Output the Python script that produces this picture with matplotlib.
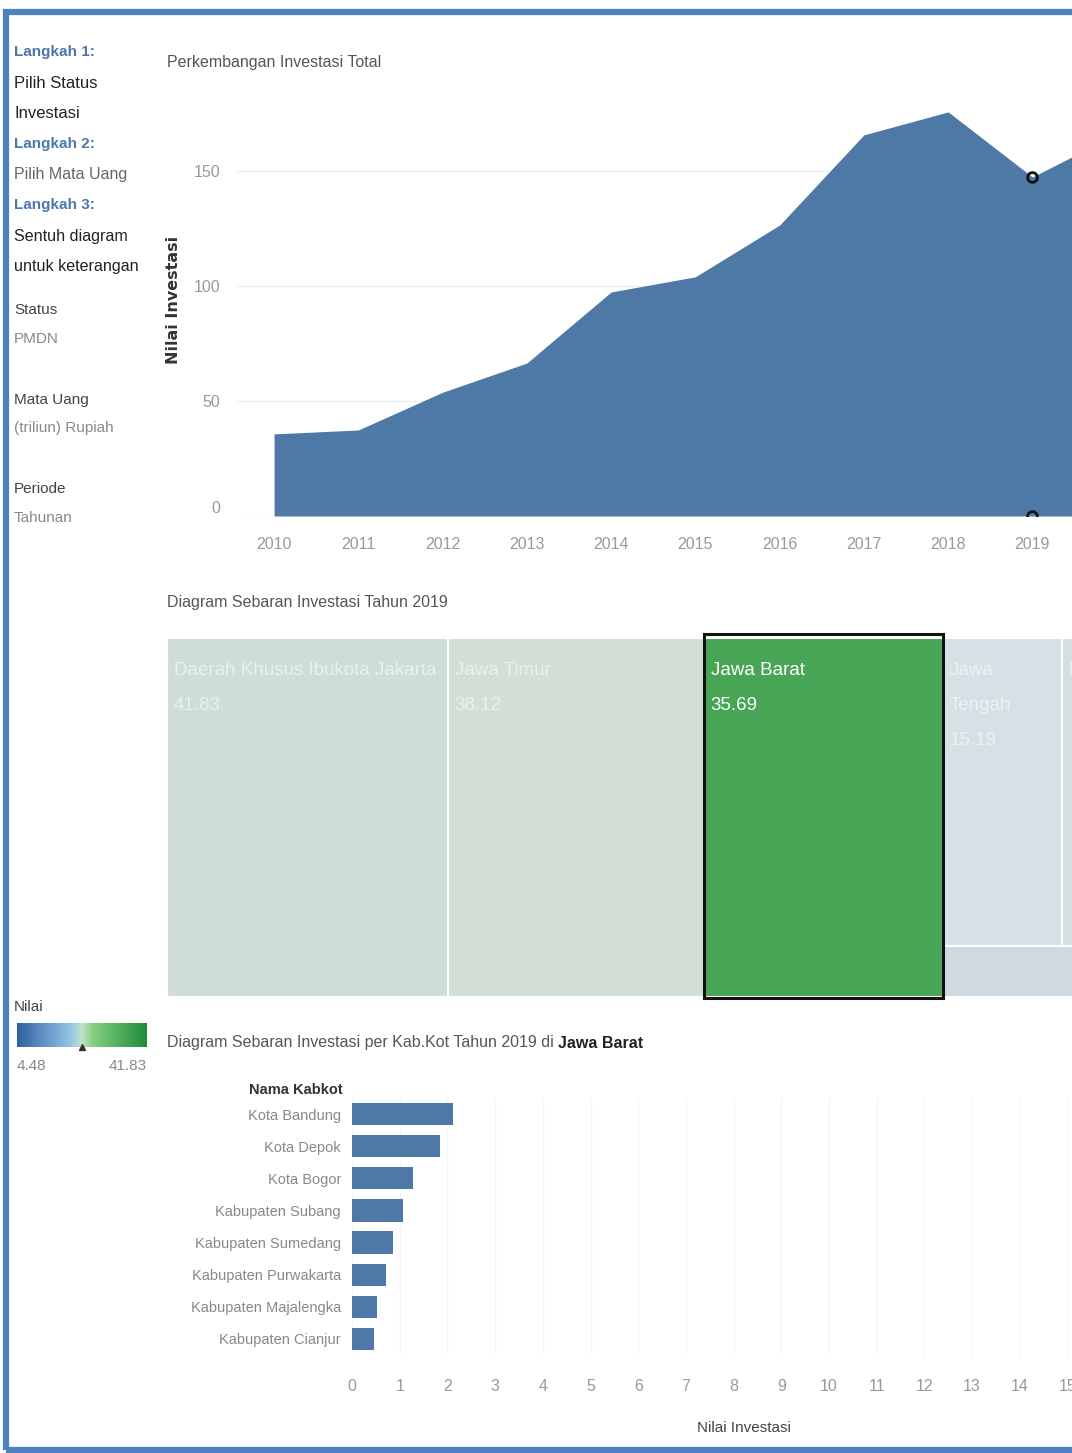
import numpy as np
import matplotlib.pyplot as plt
from matplotlib.colors import LinearSegmentedColormap, Normalize, to_rgb
from matplotlib.patches import Rectangle
import matplotlib.colorbar as mcolorbar

plt.rcParams['font.family'] = ['Liberation Sans', 'DejaVu Sans']

# ----------------------------------------------------------------- data --- #
years = [2010, 2011, 2012, 2013, 2014, 2015, 2016, 2017, 2018, 2019, 2020]
total_inv = [35.7, 37.4, 53.8, 66.5, 97.4, 104.0, 126.5, 165.7, 175.7, 147.4, 166.0]
year_ticks = [2010, 2011, 2012, 2013, 2014, 2015, 2016, 2017, 2018, 2019]
sel_year = 2019

prov_names = ['Daerah Khusus Ibukota Jakarta', 'Jawa Timur', 'Jawa Barat',
              'Jawa Tengah', 'Banten', 'Riau']
prov_values = [41.83, 38.12, 35.69, 15.19, 12.00, 4.48]
sel_prov = 'Jawa Barat'

kab_names = ['Kota Bandung', 'Kota Depok', 'Kota Bogor', 'Kabupaten Subang',
             'Kabupaten Sumedang', 'Kabupaten Purwakarta', 'Kabupaten Majalengka',
             'Kabupaten Cianjur']
kab_values = [2.12, 1.84, 1.28, 1.06, 0.87, 0.71, 0.53, 0.46]
kab_ticks = list(range(0, 16))

# ---------------------------------------------------------------- setup --- #
W, H = 1072, 1453
fig = plt.figure(figsize=(W / 100, H / 100), dpi=100)
fig.patch.set_facecolor('white')

def box(l, t, r, b):
  return [l / W, 1 - b / H, (r - l) / W, (b - t) / H]

def ftext(x, y, s, **kw):
  return fig.text(x / W, 1 - y / H, s, va='center', **kw)

blue = '#4e79a7'
cmap = LinearSegmentedColormap.from_list('nilai', [
  (0.0, '#2f5fa0'), (0.42, '#96c6e6'), (0.5, '#bfe2c6'),
  (0.58, '#86cf80'), (1.0, '#1e8a3a')])
norm = Normalize(min(prov_values), max(prov_values))

# frame
fig.patches.append(Rectangle((5.5 / W, 1 - 1450 / H), (W + 40) / W, (1450 - 12) / H,
                             transform=fig.transFigure, fill=False,
                             edgecolor='#4f81bd', lw=4.5, zorder=10))

# ----------------------------------------------------------- left panel --- #
left_items = [
  ('Langkah 1:', 52, '#4a78ad', 'bold', 11),
  ('Pilih Status', 83, '#222222', 'normal', 12),
  ('Investasi', 113, '#222222', 'normal', 12),
  ('Langkah 2:', 144, '#4a78ad', 'bold', 11),
  ('Pilih Mata Uang', 175, '#666666', 'normal', 11.5),
  ('Langkah 3:', 205, '#4a78ad', 'bold', 11),
  ('Sentuh diagram', 236, '#222222', 'normal', 11.6),
  ('untuk keterangan', 266, '#222222', 'normal', 11.6),
  ('Status', 310, '#444444', 'normal', 11),
  ('PMDN', 339, '#888888', 'normal', 11),
  ('Mata Uang', 400, '#444444', 'normal', 11),
  ('(triliun) Rupiah', 428, '#888888', 'normal', 11),
  ('Periode', 489, '#444444', 'normal', 11),
  ('Tahunan', 518, '#888888', 'normal', 11),
]
for s, y, c, w, fs in left_items:
  ftext(14, y, s, color=c, fontweight=w, fontsize=fs)

# ------------------------------------------------------------ area chart --- #
ax1 = fig.add_axes(box(237, 79, 1072, 516))
ax1.fill_between(years, total_inv, 0, color=blue, lw=0, zorder=2)
i_sel = years.index(sel_year)
ax1.plot([sel_year, sel_year], [total_inv[i_sel], 0], 'o', mfc='none', mec='#111111',
         ms=7, mew=2, zorder=3)
ax1.set_xlim(2009.56, 2019.47)
ax1.set_ylim(0, 190)
ax1.set_xticks(year_ticks)
ax1.set_yticks([0, 50, 100, 150])
ax1.grid(axis='y', color='#eeeeee', lw=1, zorder=0)
ax1.tick_params(length=0, labelsize=11.5, labelcolor='#999999')
ax1.tick_params(axis='x', pad=15)
ax1.tick_params(axis='y', pad=12)
for sp in ax1.spines.values():
  sp.set_visible(False)
ax1.get_yticklabels()[0].set_va('bottom')
ax1.set_ylabel('Nilai Investasi', fontsize=11.5, fontweight='bold', color='#333333',
               family=['DejaVu Sans'])
ax1.yaxis.set_label_coords(-(237 - 181) / (1072 - 237), (516 - 300) / (516 - 79))
ftext(167, 62, 'Perkembangan Investasi Total', color='#555555', fontsize=11.5)

# --------------------------------------------------------------- treemap --- #
ftext(167, 602, 'Diagram Sebaran Investasi Tahun %d' % sel_year, color='#555555', fontsize=11.5)
ax2 = fig.add_axes(box(167, 638, 1072, 997))
n_cols = 3
cells = []
x0 = 0.0
for v in prov_values[:n_cols]:
  cells.append((x0, 0.0, v, 1.0))
  x0 += v
rest = prov_values[n_cols:]
top_row = prov_values[n_cols:n_cols + 2]
h_top = sum(top_row) / sum(rest)
xx = x0
for v in top_row:
  cells.append((xx, 0.0, v / h_top, h_top))
  xx += v / h_top
xx = x0
for v in prov_values[n_cols + 2:]:
  cells.append((xx, h_top, v / (1 - h_top), 1 - h_top))
  xx += v / (1 - h_top)

unit_px = (943 - 167) / sum(prov_values[:n_cols])
ax2.set_xlim(0, (1072 - 167) / unit_px)
ax2.set_ylim(1, 0)
ax2.axis('off')
fade_bg = np.array([226, 231, 231]) / 255

for name, v, (cx, cy, cw, ch) in zip(prov_names, prov_values, cells):
  c = np.array(to_rgb(cmap(norm(v))))
  selected = name == sel_prov
  fc = c if selected else 0.1 * c + 0.9 * fade_bg
  rect = Rectangle((cx, cy), cw, ch, facecolor=fc, edgecolor='white', lw=1.5, zorder=1)
  ax2.add_patch(rect)
  if selected:
    ax2.add_patch(Rectangle((cx, cy - 0.012), cw, ch + 0.014, fill=False,
                            edgecolor='#111111', lw=2.2, zorder=5, clip_on=False))
  if ch < 0.3:
    continue
  lines = name.split() if cw * unit_px < 150 else [name]
  lines = lines + ['%.2f' % v]
  for k, s in enumerate(lines):
    t = ax2.annotate(s, xy=(cx, cy), xytext=(7, -33 - 35 * k), textcoords='offset pixels',
                     color='white', alpha=1.0 if selected else 0.55, fontsize=13.5,
                     va='center', ha='left', zorder=6)
    t.set_clip_path(rect)

# colour legend
ftext(14, 1007, 'Nilai', color='#444444', fontsize=11)
cax = fig.add_axes(box(17, 1023, 147, 1047))
cb = mcolorbar.ColorbarBase(cax, cmap=cmap, norm=norm, orientation='horizontal')
cb.outline.set_visible(False)
cax.set_xticks([])
cax.plot([(norm.vmin + norm.vmax) / 2], [0.0], marker='^', color='#333333', ms=4,
         transform=cax.get_xaxis_transform(), clip_on=False)
ftext(17, 1066, '%.2f' % min(prov_values), color='#888888', fontsize=11)
ftext(147, 1066, '%.2f' % max(prov_values), color='#888888', fontsize=11, ha='right')

# ------------------------------------------------------------ bar chart --- #
t1 = ftext(167, 1043, 'Diagram Sebaran Investasi per Kab.Kot Tahun %d di ' % sel_year,
           color='#555555', fontsize=11.5)
fig.add_artist(plt.Annotation(sel_prov, xy=(1, 0.5), xycoords=t1, va='center',
                              fontsize=11.5, color='#222222', fontweight='bold'))

ax3 = fig.add_axes(box(352, 1098, 1077, 1355))
ypos = np.arange(len(kab_names))
ax3.barh(ypos, kab_values, height=0.69, color=blue, zorder=2)
ax3.set_ylim(len(kab_names) - 0.5, -0.5)
ax3.set_xlim(0, (1077 - 352) / 47.7)
ax3.set_xticks(kab_ticks)
ax3.set_yticks(ypos)
ax3.set_yticklabels(kab_names)
ax3.grid(axis='x', color='#f5f5f5', lw=1, zorder=0)
ax3.tick_params(length=0, labelsize=11.5, labelcolor='#999999')
ax3.tick_params(axis='x', pad=17)
ax3.tick_params(axis='y', pad=8, labelsize=10.5, labelcolor='#888888')
for sp in ax3.spines.values():
  sp.set_visible(False)
ax3.set_xlabel('Nilai Investasi', fontsize=11, color='#444444')
ax3.xaxis.set_label_coords((744 - 352) / (1077 - 352), -(1421 - 1355) / (1355 - 1098))
ftext(343, 1090, 'Nama Kabkot', color='#333333', fontsize=10.5, fontweight='bold', ha='right')

fig.savefig('out.png', dpi=100)
